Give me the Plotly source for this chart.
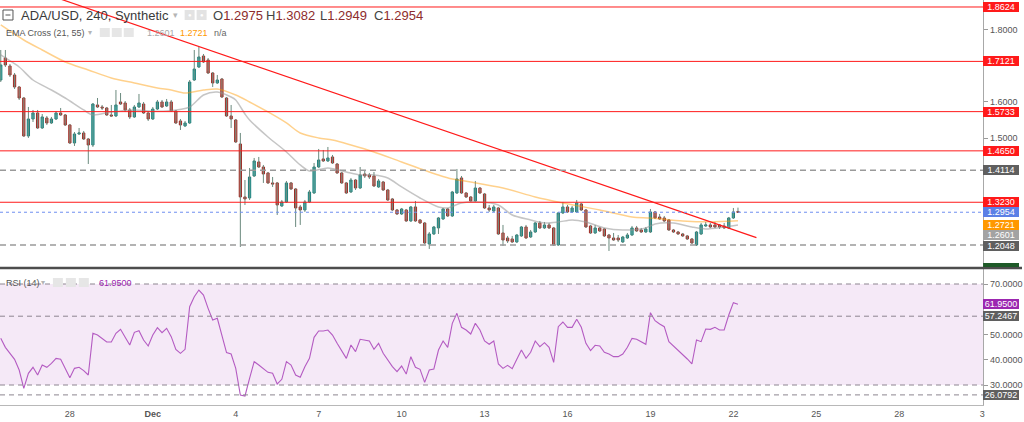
import pandas as pd
import plotly.graph_objects as go

# ---------------- data ----------------
candle_start = "2021-11-25 12:00"   # 4h candles

opens = [1.6607, 1.7215, 1.6994, 1.6746, 1.6414, 1.6110, 1.5061, 1.5530, 1.5696, 1.5282,
         1.5558, 1.5420, 1.5530, 1.5696, 1.5641, 1.5365, 1.4867, 1.5116, 1.5144, 1.4978,
         1.4812, 1.5917, 1.5862, 1.5834, 1.5641, 1.5613, 1.6000, 1.5972, 1.5779, 1.5586,
         1.5862, 1.5944, 1.5696, 1.5530, 1.5806, 1.6000, 1.5889, 1.6000, 1.5751, 1.5475,
         1.5337, 1.5420, 1.6607, 1.6966, 1.7270, 1.7160, 1.6801, 1.6525, 1.6635, 1.6110,
         1.5613, 1.5503, 1.4840, 1.3376, 1.3348, 1.3956, 1.4343, 1.4204, 1.4039, 1.3763,
         1.3763, 1.3127, 1.3238, 1.3763, 1.3597, 1.3100, 1.3017, 1.3238, 1.3486, 1.4204,
         1.4426, 1.4370, 1.4481, 1.4287, 1.4039, 1.3763, 1.3514, 1.3845, 1.3624, 1.4011,
         1.3984, 1.3956, 1.3652, 1.3790, 1.3569, 1.3321, 1.3017, 1.2906, 1.3017, 1.2713,
         1.3100, 1.2741, 1.2658, 1.2078, 1.2354, 1.2520, 1.2768, 1.3044, 1.2851, 1.3486,
         1.3901, 1.3486, 1.3376, 1.3265, 1.3624, 1.3459, 1.3072, 1.2989, 1.3072, 1.2381,
         1.2243, 1.2216, 1.2133, 1.2299, 1.2547, 1.2271, 1.2409, 1.2658, 1.2520, 1.2603,
         1.2520, 1.2050, 1.2934, 1.3100, 1.2962, 1.2962, 1.3183, 1.3017, 1.2575, 1.2381,
         1.2520, 1.2492, 1.2326, 1.2243, 1.2243, 1.2133, 1.2243, 1.2326, 1.2520, 1.2464,
         1.2409, 1.2409, 1.2962, 1.2823, 1.2796, 1.2741, 1.2464, 1.2409, 1.2354, 1.2299,
         1.2216, 1.2050, 1.2354, 1.2575, 1.2603, 1.2603, 1.2603, 1.2575, 1.2520, 1.2796,
         1.2975]

highs = [1.7436, 1.7436, 1.7049, 1.6801, 1.6442, 1.6138, 1.5862, 1.5779, 1.5779, 1.5668,
         1.5613, 1.5586, 1.5751, 1.5834, 1.5668, 1.5392, 1.5171, 1.5282, 1.5199, 1.5006,
         1.5972, 1.6110, 1.5917, 1.5862, 1.5917, 1.6331, 1.6248, 1.6027, 1.5834, 1.5917,
         1.6221, 1.6000, 1.5751, 1.5862, 1.6055, 1.6055, 1.6083, 1.6055, 1.5779, 1.5530,
         1.5475, 1.6607, 1.7436, 1.7519, 1.7326, 1.7215, 1.6828, 1.6746, 1.6663, 1.6138,
         1.5917, 1.5530, 1.5144, 1.3845, 1.4177, 1.4453, 1.4481, 1.4260, 1.4066, 1.3928,
         1.3790, 1.3293, 1.3818, 1.3790, 1.3624, 1.3155, 1.3293, 1.3569, 1.4315, 1.4702,
         1.4674, 1.4757, 1.4536, 1.4315, 1.4066, 1.3790, 1.3901, 1.3873, 1.4204, 1.4122,
         1.4039, 1.4066, 1.3873, 1.3818, 1.3597, 1.3348, 1.3044, 1.3072, 1.3044, 1.3127,
         1.3265, 1.2768, 1.2685, 1.2409, 1.2575, 1.2823, 1.3072, 1.3072, 1.3542, 1.4149,
         1.3956, 1.3514, 1.3403, 1.3818, 1.3652, 1.3486, 1.3155, 1.3155, 1.3100, 1.2603,
         1.2299, 1.2299, 1.2354, 1.2575, 1.2603, 1.2464, 1.2685, 1.2713, 1.2685, 1.2658,
         1.2547, 1.2962, 1.3238, 1.3155, 1.3127, 1.3293, 1.3210, 1.3044, 1.2603, 1.2603,
         1.2547, 1.2520, 1.2354, 1.2381, 1.2326, 1.2299, 1.2381, 1.2575, 1.2575, 1.2520,
         1.2547, 1.3044, 1.2989, 1.2906, 1.2851, 1.2768, 1.2492, 1.2437, 1.2381, 1.2326,
         1.2243, 1.2437, 1.2658, 1.2685, 1.2658, 1.2685, 1.2630, 1.2658, 1.2823, 1.3072,
         1.3082]

lows = [1.6552, 1.6966, 1.6690, 1.6359, 1.6055, 1.5033, 1.5006, 1.5447, 1.5254, 1.5254,
        1.5365, 1.5392, 1.5503, 1.5613, 1.5337, 1.4840, 1.4785, 1.5088, 1.4950, 1.4287,
        1.4757, 1.5834, 1.5779, 1.5613, 1.5586, 1.5586, 1.5917, 1.5724, 1.5530, 1.5558,
        1.5834, 1.5668, 1.5475, 1.5503, 1.5779, 1.5834, 1.5862, 1.5724, 1.5392, 1.5226,
        1.5309, 1.5392, 1.6580, 1.6939, 1.7077, 1.6773, 1.6414, 1.6497, 1.6110, 1.5586,
        1.5282, 1.4867, 1.1995, 1.3155, 1.3293, 1.3928, 1.4177, 1.3763, 1.3735, 1.3652,
        1.2879, 1.3100, 1.3210, 1.3569, 1.2547, 1.2603, 1.2962, 1.3210, 1.3459, 1.4177,
        1.4343, 1.4343, 1.4287, 1.4011, 1.3735, 1.3459, 1.3486, 1.3569, 1.3597, 1.3901,
        1.3873, 1.3652, 1.3624, 1.3542, 1.3265, 1.2989, 1.2879, 1.2879, 1.2685, 1.2685,
        1.2685, 1.2630, 1.2078, 1.1940, 1.2326, 1.2354, 1.2741, 1.2823, 1.2823, 1.3459,
        1.3459, 1.3348, 1.3238, 1.3238, 1.3459, 1.3044, 1.2962, 1.2962, 1.2326, 1.2022,
        1.2105, 1.2105, 1.2105, 1.2271, 1.2216, 1.2243, 1.2381, 1.2492, 1.2492, 1.2492,
        1.2022, 1.2022, 1.2906, 1.2934, 1.2934, 1.2934, 1.2989, 1.2520, 1.2354, 1.2354,
        1.2409, 1.2271, 1.1884, 1.2161, 1.2133, 1.2105, 1.2216, 1.2299, 1.2409, 1.2381,
        1.2381, 1.2381, 1.2768, 1.2741, 1.2685, 1.2437, 1.2381, 1.2326, 1.2271, 1.2188,
        1.2078, 1.2022, 1.2326, 1.2547, 1.2520, 1.2520, 1.2492, 1.2492, 1.2492, 1.2768,
        1.2949]

closes = [1.7022, 1.7022, 1.6746, 1.6414, 1.6110, 1.5061, 1.5530, 1.5696, 1.5282, 1.5586,
          1.5420, 1.5530, 1.5696, 1.5641, 1.5365, 1.4867, 1.5116, 1.5144, 1.4978, 1.4812,
          1.5944, 1.5862, 1.5834, 1.5641, 1.5613, 1.5917, 1.5944, 1.5779, 1.5586, 1.5862,
          1.5972, 1.5696, 1.5530, 1.5806, 1.6000, 1.5862, 1.6000, 1.5751, 1.5420, 1.5365,
          1.5420, 1.6552, 1.6911, 1.7243, 1.7105, 1.6801, 1.6525, 1.6607, 1.6138, 1.5613,
          1.5530, 1.4895, 1.3376, 1.3321, 1.3928, 1.4370, 1.4204, 1.4011, 1.3763, 1.3735,
          1.3155, 1.3238, 1.3763, 1.3597, 1.3072, 1.3017, 1.3238, 1.3514, 1.4204, 1.4398,
          1.4370, 1.4453, 1.4315, 1.4039, 1.3763, 1.3486, 1.3845, 1.3624, 1.3984, 1.3956,
          1.3928, 1.3680, 1.3818, 1.3569, 1.3293, 1.3017, 1.2906, 1.3044, 1.2713, 1.3100,
          1.2713, 1.2658, 1.2105, 1.2354, 1.2547, 1.2796, 1.3044, 1.2851, 1.3514, 1.3873,
          1.3486, 1.3376, 1.3265, 1.3624, 1.3486, 1.3072, 1.3017, 1.3100, 1.2354, 1.2188,
          1.2161, 1.2133, 1.2326, 1.2547, 1.2243, 1.2409, 1.2658, 1.2520, 1.2603, 1.2520,
          1.2050, 1.2934, 1.3100, 1.2962, 1.3072, 1.3210, 1.3017, 1.2547, 1.2381, 1.2520,
          1.2437, 1.2299, 1.2243, 1.2188, 1.2188, 1.2271, 1.2326, 1.2520, 1.2437, 1.2409,
          1.2492, 1.2962, 1.2796, 1.2768, 1.2713, 1.2464, 1.2409, 1.2354, 1.2299, 1.2216,
          1.2105, 1.2409, 1.2603, 1.2603, 1.2547, 1.2547, 1.2547, 1.2520, 1.2796, 1.2962,
          1.2954]

# EMA 21 (grey) read at these candle numbers
ema21_idx = [0, 1, 4, 7, 11, 14, 18, 20, 24, 29, 32, 36, 41, 44, 47, 50, 51, 53, 54, 58,
             62, 65, 67, 71, 75, 78, 81, 84, 87, 91, 95, 97, 100, 104, 108, 111, 115, 118, 121, 124,
             127, 131, 135, 140, 142, 146, 150, 153, 157, 160]
ema21_val = [1.7298, 1.7215, 1.6966, 1.6607, 1.6331, 1.6110, 1.5779, 1.5641, 1.5724, 1.5779,
             1.5751, 1.5751, 1.5862, 1.6193, 1.6276, 1.6138, 1.6055, 1.5668, 1.5503, 1.5033,
             1.4619, 1.4260, 1.4094, 1.4177, 1.4066, 1.3984, 1.3984, 1.3901, 1.3652, 1.3348,
             1.3100, 1.3072, 1.3210, 1.3238, 1.3155, 1.2879, 1.2741, 1.2658, 1.2685, 1.2741,
             1.2685, 1.2520, 1.2464, 1.2520, 1.2630, 1.2658, 1.2547, 1.2492, 1.2547, 1.2601]

# EMA 55 (orange)
ema55_idx = [0, 5, 9, 14, 19, 24, 29, 34, 37, 40, 44, 47, 51, 54, 58, 62, 65, 69, 72, 76,
             81, 87, 95, 98, 102, 109, 116, 122, 130, 137, 141, 148, 154, 160]
ema55_val = [1.8127, 1.7712, 1.7436, 1.7105, 1.6884, 1.6663, 1.6525, 1.6386, 1.6331, 1.6248,
             1.6331, 1.6359, 1.6193, 1.6000, 1.5724, 1.5420, 1.5144, 1.5006, 1.4950, 1.4812,
             1.4619, 1.4343, 1.3984, 1.3873, 1.3790, 1.3624, 1.3376, 1.3210, 1.3017, 1.2823,
             1.2796, 1.2713, 1.2690, 1.2721]

# RSI(14) read at these candle numbers
rsi_idx = [0, 1] + list(range(3, 22)) + list(range(23, 74)) + list(range(75, 84)) + list(range(85, 161))
rsi_val = [48.48, 44.92, 40.17, 35.94, 28.68, 34.62, 37.00, 33.96, 37.92, 37.00,
           38.58, 40.56, 40.17, 36.60, 32.90, 36.60, 37.00, 35.68, 33.96, 50.46,
           49.80, 47.03, 47.03, 50.46, 52.05, 48.88, 45.84, 50.86, 51.52, 47.82,
           45.45, 49.80, 52.71, 50.73, 52.44, 49.14, 44.13, 42.54, 44.13, 61.02,
           64.99, 67.62, 65.64, 60.36, 55.74, 56.40, 49.80, 42.81, 42.28, 36.60,
           26.04, 25.64, 32.64, 39.24, 37.92, 36.60, 35.02, 34.62, 30.40, 32.24,
           39.24, 37.92, 33.96, 33.04, 37.26, 40.56, 48.88, 51.39, 51.39, 51.78,
           49.80, 46.50, 40.56, 45.84, 43.20, 48.09, 47.82, 47.43, 44.13, 46.50,
           42.54, 37.26, 35.28, 37.50, 34.35, 41.22, 37.00, 36.21, 31.06, 35.94,
           36.34, 43.86, 47.43, 44.92, 54.42, 58.38, 52.84, 51.78, 50.20, 54.42,
           51.78, 47.43, 46.11, 47.43, 38.32, 36.60, 37.79, 36.47, 40.17, 43.86,
           40.56, 42.94, 47.43, 45.18, 46.77, 44.92, 38.98, 53.10, 54.95, 52.84,
           52.84, 56.01, 52.84, 46.50, 43.60, 45.71, 45.45, 42.94, 42.28, 41.22,
           41.22, 42.28, 44.92, 48.48, 48.09, 47.16, 46.11, 58.65, 55.48, 54.16,
           53.10, 47.16, 45.45, 43.60, 42.28, 40.30, 38.32, 47.82, 47.16, 52.18,
           52.05, 52.84, 51.78, 51.78, 57.72, 62.61, 61.95]

red_levels = [1.8624, 1.7121, 1.5733, 1.4650, 1.3230]
gray_levels = [1.4114, 1.2048]
rsi_levels = [57.2467, 26.0792]
rsi_band = [30, 70]
trend_x = ["2021-11-27 00:00", "2021-12-22 20:00"]
trend_y = [1.9016, 1.2252]

price_ticks = [1.8, 1.6, 1.5]
rsi_ticks = [70, 50, 40, 30]
date_ticks = ["2021-11-28", "2021-12-01", "2021-12-04", "2021-12-07", "2021-12-10", "2021-12-13",
              "2021-12-16", "2021-12-19", "2021-12-22", "2021-12-25", "2021-12-28", "2021-12-31"]
date_labels = ["28", "<b>Dec</b>", "4", "7", "10", "13", "16", "19", "22", "25", "28", "3"]

# ---------------- styling / layout ----------------
W, H = 1024, 422
PB = 405          # bottom of the plotting area (px from top)
AXX = 985         # price axis position (px)
PANE_SPLIT = 268
FONT = "Liberation Sans, Arial, sans-serif"

UP_FILL, UP_LINE = "#2cc3c5", "#1f7f7a"
DN_FILL, DN_LINE = "#ee5a4e", "#9c2f28"
WICK = "#6b8a7e"

times = pd.date_range(candle_start, periods=len(opens), freq="4h")

fig = go.Figure()

# wicks
wx, wy = [], []
for t, hi, lo in zip(times, highs, lows):
    wx += [t, t, None]
    wy += [lo, hi, None]
fig.add_trace(go.Scatter(x=wx, y=wy, mode="lines", line=dict(color=WICK, width=1),
                         hoverinfo="skip", showlegend=False, xaxis="x", yaxis="y"))

body_hi = [max(o, c) for o, c in zip(opens, closes)]
body_lo = [min(o, c) for o, c in zip(opens, closes)]
fig.add_trace(go.Candlestick(
    x=times, open=opens, high=body_hi, low=body_lo, close=closes,
    increasing=dict(fillcolor=UP_FILL, line=dict(color=UP_LINE, width=1)),
    decreasing=dict(fillcolor=DN_FILL, line=dict(color=DN_LINE, width=1)),
    whiskerwidth=0, showlegend=False, xaxis="x", yaxis="y"))

# EMAs
fig.add_trace(go.Scatter(x=times[ema21_idx], y=ema21_val, mode="lines",
                         line=dict(color="rgba(150,150,150,0.55)", width=1.5, shape="spline", smoothing=0.8),
                         showlegend=False, xaxis="x", yaxis="y"))
fig.add_trace(go.Scatter(x=times[ema55_idx], y=ema55_val, mode="lines",
                         line=dict(color="rgba(255,152,0,0.45)", width=1.5, shape="spline", smoothing=0.8),
                         showlegend=False, xaxis="x", yaxis="y"))

# trend line
fig.add_trace(go.Scatter(x=pd.to_datetime(trend_x), y=trend_y, mode="lines",
                         line=dict(color="#ff1a1a", width=1.2), showlegend=False, xaxis="x", yaxis="y"))

# RSI
fig.add_trace(go.Scatter(x=times[rsi_idx], y=rsi_val, mode="lines",
                         line=dict(color="#b45bc2", width=1.1), showlegend=False, xaxis="x2", yaxis="y2"))

shapes = []
XR = AXX / W
for lv in red_levels:
    shapes.append(dict(type="line", xref="paper", x0=0, x1=XR, yref="y", y0=lv, y1=lv,
                       line=dict(color="#ff1a1a", width=1)))
for lv in gray_levels:
    shapes.append(dict(type="line", xref="paper", x0=0, x1=XR, yref="y", y0=lv, y1=lv,
                       line=dict(color="#9a9a9a", width=1.5, dash="6px,4px")))
shapes.append(dict(type="line", xref="paper", x0=0, x1=XR, yref="y", y0=closes[-1], y1=closes[-1],
                   line=dict(color="#6f8ff0", width=1, dash="dot")))
shapes.append(dict(type="rect", xref="paper", x0=0, x1=XR, yref="y2", y0=rsi_band[0], y1=rsi_band[1],
                   fillcolor="rgba(156,39,176,0.10)", line=dict(width=0), layer="below"))
for lv in rsi_band + rsi_levels:
    shapes.append(dict(type="line", xref="paper", x0=0, x1=XR, yref="y2", y0=lv, y1=lv,
                       line=dict(color="#8d8590", width=1, dash="5px,4px")))


def py(p):
    return (PB - p) / PB


def px(p):
    return p / W


# pane separator
shapes.append(dict(type="line", xref="paper", yref="paper", x0=0, x1=1, y0=py(PANE_SPLIT), y1=py(PANE_SPLIT),
                   line=dict(color="#4d4d4d", width=2.5)))
# label sliver hidden under the pane separator at the bottom of the price scale
shapes.append(dict(type="rect", xref="paper", yref="paper", x0=px(AXX), x1=px(1021),
                   y0=py(PANE_SPLIT - 1), y1=py(PANE_SPLIT - 5), fillcolor="#1e5a28", line=dict(width=0)))


def rect(x0, y0, x1, y1, fill, line=None, lw=0):
    shapes.append(dict(type="rect", xref="paper", yref="paper", x0=px(x0), x1=px(x1), y0=py(y0), y1=py(y1),
                       fillcolor=fill, line=dict(color=line or fill, width=lw)))


# header icons
shapes.append(dict(type="rect", xref="paper", yref="paper", x0=px(3), x1=px(13), y0=py(10), y1=py(20),
                   line=dict(color="#555", width=1)))
shapes.append(dict(type="line", xref="paper", yref="paper", x0=px(5.5), x1=px(10.5), y0=py(15), y1=py(15),
                   line=dict(color="#555", width=1)))
for x0 in (185, 197):
    rect(x0, 10, x0 + 10, 20, "#e3e3e3")
for x0 in (100, 112, 124):
    rect(x0, 28, x0 + 10, 37, "#e6e6e6")
for x0 in (53, 66, 79):
    rect(x0, 278, x0 + 10, 287, "#e6e6e6")

annotations = []


def txt(x, y, s, size=9, color="#555", anchor="left"):
    annotations.append(dict(x=px(x), y=py(y), xref="paper", yref="paper", text=s, showarrow=False,
                            xanchor=anchor, yanchor="middle", font=dict(size=size, color=color, family=FONT)))


txt(19, 15.5, "ADA/USD, 240, Synthetic", 13, "#3a3a3a")
txt(171, 15, "▾", 9, "#b5b5b5")
for x0 in (185, 197):
    txt(x0 + 5, 15, "●", 6, "#ffffff", "center")
vals = [("O", opens[-1], 211), ("H", highs[-1], 265), ("L", lows[-1], 319), ("C", closes[-1], 373)]
for lab, v, x0 in vals:
    txt(x0, 15.5, f"{lab}<span style='color:#8e2c2c'>{v:.4f}</span>", 13, "#444")

txt(4, 32.5, "EMA Cross (21, 55)", 9, "#555")
txt(86, 32, "▾", 8, "#b5b5b5")
txt(145, 32.5, f"{ema21_val[-1]:.4f}", 9, "#a8a8a8")
txt(178, 32.5, f"{ema55_val[-1]:.4f}", 9, "#ff9800")
txt(212, 32.5, "n/a", 9, "#666")

txt(4, 282.5, "RSI (14)", 9, "#555")
txt(39, 282, "▾", 8, "#b5b5b5")
txt(97, 282.5, f"{rsi_val[-1]:.4f}", 9, "#9c27b0")


def axis_label(val, yref, bg, shift=0):
    # shift: TradingView pushes crowded scale labels apart (pixels, negative = down)
    annotations.append(dict(x=px(AXX), xref="paper", xanchor="left", y=val, yref=yref, yanchor="middle",
                            yshift=shift, text=f"{val:.4f}", showarrow=False, bgcolor=bg, bordercolor=bg,
                            borderwidth=1, borderpad=0, width=34, height=8, align="center",
                            font=dict(size=9, color="white", family=FONT)))


for lv in red_levels:
    axis_label(lv, "y", "#ff1a1a")
axis_label(gray_levels[0], "y", "#5f5f5f")
axis_label(gray_levels[1], "y", "#5f5f5f", -1)
axis_label(closes[-1], "y", "#5b7fe6")
axis_label(ema55_val[-1], "y", "#ff9800", -4)
axis_label(ema21_val[-1], "y", "#a3a3a3", -10)
axis_label(rsi_val[-1], "y2", "#9c27b0")
for lv in rsi_levels:
    axis_label(lv, "y2", "#5f5f5f")

price_top = 1.8817
px_per_unit = 362.0
price_bottom = price_top - PANE_SPLIT / px_per_unit
rsi_top = 70 + (284 - (PANE_SPLIT + 1)) / 2.525
rsi_bottom = 70 - (PB - 284) / 2.525

fig.update_layout(
    width=W, height=H, margin=dict(l=0, r=0, t=0, b=H - PB),
    paper_bgcolor="white", plot_bgcolor="white", showlegend=False,
    font=dict(family=FONT, size=9, color="#555"),
    xaxis=dict(domain=[0, XR], range=["2021-11-25 11:21", "2021-12-31 00:46"], type="date",
               anchor="y", showticklabels=False, showgrid=False, zeroline=False, showline=False,
               ticks="", rangeslider=dict(visible=False)),
    xaxis2=dict(domain=[0, XR], matches="x", anchor="y2", type="date", tickvals=date_ticks,
                ticktext=date_labels, showgrid=False, zeroline=False, showline=True, linecolor="#b8b8b8",
                ticks="", tickfont=dict(size=9, color="#555")),
    yaxis=dict(domain=[py(PANE_SPLIT), 1], range=[price_bottom, price_top], side="right", anchor="x",
               tickvals=price_ticks, ticktext=[f"{v:.4f}" for v in price_ticks], showgrid=False,
               zeroline=False, showline=True, linecolor="#a8a8a8", ticks="outside", ticklen=4,
               tickcolor="#9a9a9a", tickfont=dict(size=9, color="#555")),
    yaxis2=dict(domain=[0, py(PANE_SPLIT + 1)], range=[rsi_bottom, rsi_top], side="right", anchor="x2",
                tickvals=rsi_ticks, ticktext=[f"{v:.4f}" for v in rsi_ticks], showgrid=False,
                zeroline=False, showline=True, linecolor="#a8a8a8", ticks="outside", ticklen=4,
                tickcolor="#9a9a9a", tickfont=dict(size=9, color="#555")),
    shapes=shapes, annotations=annotations,
)

fig.write_html("out.html")
